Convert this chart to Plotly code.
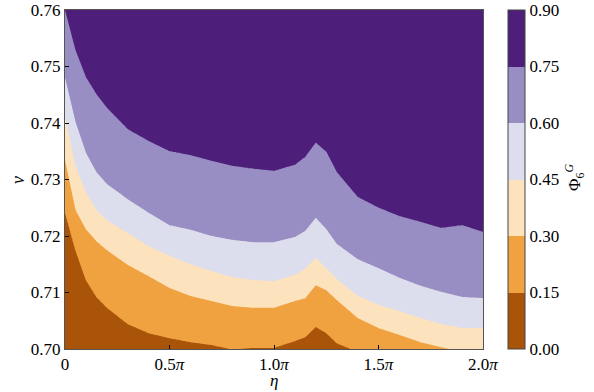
import numpy as np
import plotly.graph_objects as go

# eta in units of pi
eta = [0, 0.05, 0.1, 0.15, 0.2, 0.3, 0.4, 0.5, 0.6, 0.7, 0.8, 0.9, 1.0, 1.1, 1.15,
       1.2, 1.25, 1.3, 1.4, 1.5, 1.6, 1.7, 1.8, 1.9, 2.0]
# nu position of each contour level boundary
b75 = [0.7600, 0.7529, 0.7481, 0.7451, 0.7427, 0.7389, 0.7368, 0.7350, 0.7343, 0.7333,
       0.7324, 0.7319, 0.7315, 0.7326, 0.7340, 0.7365, 0.7349, 0.7313, 0.7269, 0.7250,
       0.7235, 0.7225, 0.7214, 0.7219, 0.7207]
b60 = [0.7480, 0.7402, 0.7347, 0.7313, 0.7292, 0.7265, 0.7241, 0.7219, 0.7211, 0.7200,
       0.7193, 0.7189, 0.7189, 0.7198, 0.7209, 0.7232, 0.7212, 0.7186, 0.7159, 0.7143,
       0.7126, 0.7112, 0.7101, 0.7092, 0.7090]
b45 = [0.7411, 0.7324, 0.7278, 0.7246, 0.7228, 0.7205, 0.7182, 0.7165, 0.7150, 0.7138,
       0.7127, 0.7122, 0.7120, 0.7131, 0.7142, 0.7161, 0.7143, 0.7124, 0.7094, 0.7078,
       0.7067, 0.7055, 0.7044, 0.7037, 0.7037]
b30 = [0.7335, 0.7246, 0.7212, 0.7191, 0.7175, 0.7149, 0.7129, 0.7108, 0.7094, 0.7085,
       0.7076, 0.7073, 0.7073, 0.7085, 0.7090, 0.7113, 0.7104, 0.7087, 0.7055, 0.7037,
       0.7025, 0.7012, 0.7003, 0.6995, 0.6990]
b15 = [0.7242, 0.7175, 0.7122, 0.7092, 0.7073, 0.7044, 0.7028, 0.7019, 0.7012, 0.7007,
       0.6999, 0.7002, 0.7002, 0.7014, 0.7021, 0.7039, 0.7028, 0.7010, 0.6995, 0.6985,
       0.6980, 0.6975, 0.6970, 0.6965, 0.6960]
levels = [0.0, 0.15, 0.30, 0.45, 0.60, 0.75, 0.90]
colors = ["#aa5409", "#f0a240", "#fde2be", "#dddeed", "#998ec3", "#4d1f7a"]
xtick_vals = [0, 0.5, 1.0, 1.5, 2.0]
xtick_text = ["0", "0.5<i>π</i>", "1.0<i>π</i>", "1.5<i>π</i>", "2.0<i>π</i>"]
ytick_vals = [0.70, 0.71, 0.72, 0.73, 0.74, 0.75, 0.76]
cbar_text = ["0.00", "0.15", "0.30", "0.45", "0.60", "0.75", "0.90"]

# build grid from the boundary curves
xf = np.linspace(0, 2, 401)
yf = np.linspace(0.70, 0.76, 481)
bounds = [np.interp(xf, eta, b) for b in (b15, b30, b45, b60, b75)]
Z = np.zeros((len(yf), len(xf)))
for j in range(len(xf)):
    yp = [0.69] + [bd[j] for bd in bounds] + [0.77]
    Z[:, j] = np.interp(yf, yp, levels)

n = len(colors)
cs = []
for i, c in enumerate(colors):
    cs.append([i / n, c])
    cs.append([(i + 1) / n, c])

FONT = "Liberation Serif"
L, R, T, B = 65, 483, 10, 349
PW, PH = R - L, B - T


def px(xp):
    return (xp - L) / PW


def py(yp):
    return (B - yp) / PH


fig = go.Figure(go.Contour(
    x=xf, y=yf, z=Z,
    zmin=0, zmax=0.9,
    colorscale=cs,
    contours=dict(start=0, end=0.9, size=0.15, coloring="fill", showlines=False),
    line=dict(width=0),
    hoverinfo="skip",
    colorbar=dict(
        x=px(508), xanchor="left", xpad=0,
        y=0.5, yanchor="middle", len=1, lenmode="fraction", ypad=0,
        thickness=17, outlinecolor="#444", outlinewidth=1,
        tickvals=levels, ticktext=cbar_text, ticks="",
        tickfont=dict(family=FONT, size=17, color="black"),
    ),
))

fig.update_layout(
    width=594, height=392,
    margin=dict(l=L, r=594 - R, t=T, b=392 - B, autoexpand=False),
    paper_bgcolor="white", plot_bgcolor="white",
    font=dict(family=FONT, size=17, color="black"),
    xaxis=dict(range=[0, 2], tickvals=xtick_vals, ticktext=xtick_text,
               ticks="inside", ticklen=4, tickcolor="black", automargin=False,
               showline=True, mirror=True, linecolor="#555", linewidth=1,
               showgrid=False, zeroline=False),
    yaxis=dict(range=[0.70, 0.76], tickvals=ytick_vals, tickformat=".2f",
               ticks="inside", ticklen=4, tickcolor="black", automargin=False,
               showline=True, mirror=True, linecolor="#555", linewidth=1,
               showgrid=False, zeroline=False),
    annotations=[
        dict(text="<i>η</i>", x=px(274), y=py(380), xref="paper", yref="paper",
             xanchor="center", yanchor="middle", showarrow=False,
             font=dict(family=FONT, size=17, color="black")),
        dict(text="<i>ν</i>", textangle=-90, x=px(18), y=py(180),
             xref="paper", yref="paper", xanchor="center", yanchor="middle",
             showarrow=False, font=dict(family=FONT, size=18, color="black")),
        dict(text="Φ<sub>6</sub><sup><i>G</i></sup>", textangle=-90,
             x=px(574), y=py(178), xref="paper", yref="paper",
             xanchor="center", yanchor="middle", showarrow=False,
             font=dict(family=FONT, size=17, color="black")),
    ],
)

fig.write_html("out.html", config={"displayModeBar": False},
               post_script="document.body.style.margin='0px';")
